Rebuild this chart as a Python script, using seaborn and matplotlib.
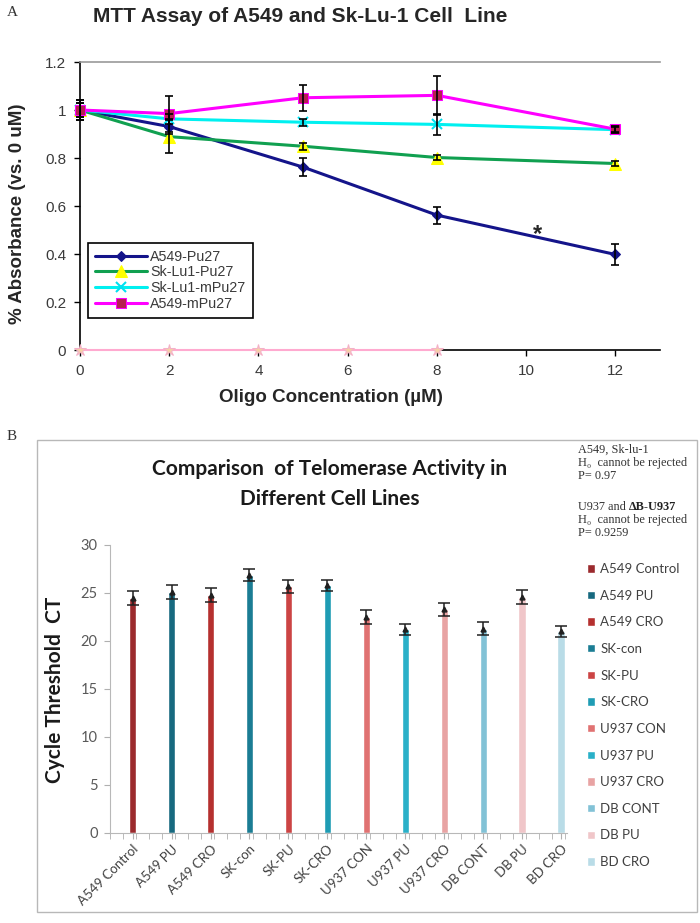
import numpy as np
import pandas as pd
import matplotlib
matplotlib.use("Agg")
import matplotlib.pyplot as plt
from matplotlib.patches import Patch, Rectangle
import seaborn as sns

# ---------------- DATA ----------------
# Panel A: MTT assay
conc = [0, 2, 5, 8, 12]
a549_pu27 = [1.0, 0.931, 0.762, 0.562, 0.398]
a549_pu27_err = [0.04, 0.03, 0.038, 0.035, 0.043]
sklu1_pu27 = [1.0, 0.889, 0.849, 0.802, 0.777]
sklu1_pu27_err = [0.03, 0.07, 0.015, 0.012, 0.012]
sklu1_mpu27 = [1.0, 0.963, 0.949, 0.940, 0.918]
sklu1_mpu27_err = [0.03, 0.02, 0.015, 0.045, 0.012]
a549_mpu27 = [1.0, 0.985, 1.051, 1.061, 0.920]
a549_mpu27_err = [0.04, 0.075, 0.055, 0.08, 0.012]
zero_conc = [0, 2, 4, 6, 8]
zero_vals = [0, 0, 0, 0, 0]

# Panel B: telomerase activity
cell_lines = ["A549 Control", "A549 PU", "A549 CRO", "SK-con", "SK-PU", "SK-CRO",
              "U937 CON", "U937 PU", "U937 CRO", "DB CONT", "DB PU", "BD CRO"]
ct_values = [24.5, 25.1, 24.8, 26.9, 25.7, 25.8, 22.5, 21.2, 23.3, 21.3, 24.6, 21.0]
ct_errors = [0.7, 0.7, 0.7, 0.6, 0.7, 0.6, 0.7, 0.6, 0.7, 0.7, 0.7, 0.6]
bar_colors = ["#9b2a2d", "#17697f", "#b5302f", "#1b7d94", "#cc4444", "#1f9cb4",
              "#e07272", "#2ab0c8", "#e8a3a3", "#82c2d6", "#f0c6c9", "#b9dce7"]

sns.set_style("white")
plt.rcParams["font.family"] = ["Liberation Sans", "DejaVu Sans"]

fig = plt.figure(figsize=(7, 9.23), dpi=100)
W, H = 700, 923

# ---------------- PANEL A ----------------
ax = fig.add_axes([80 / W, 1 - 350 / H, 580 / W, 288 / H])

series = [
    ("A549-Pu27", a549_pu27, a549_pu27_err,
     dict(color="#14148a", marker="D", markersize=5, markerfacecolor="#14148a",
          markeredgecolor="#14148a")),
    ("Sk-Lu1-Pu27", sklu1_pu27, sklu1_pu27_err,
     dict(color="#10a050", marker="^", markersize=8, markerfacecolor="#ffff00",
          markeredgecolor="#ffff00")),
    ("Sk-Lu1-mPu27", sklu1_mpu27, sklu1_mpu27_err,
     dict(color="#00f0f0", marker="x", markersize=7, markeredgewidth=1.5,
          markeredgecolor="#00e0f0")),
    ("A549-mPu27", a549_mpu27, a549_mpu27_err,
     dict(color="#ff00ff", marker="s", markersize=7, markerfacecolor="#b52050",
          markeredgecolor="#ff00ff")),
]

handles = []
for name, vals, err, style in series:
    sns.lineplot(x=conc, y=vals, ax=ax, linewidth=2.2, label=name, zorder=4,
                 clip_on=False, **style)
    handles.append(ax.lines[-1])
    ax.errorbar(conc, vals, yerr=err, fmt="none", ecolor="black",
                elinewidth=1.2, capsize=3, capthick=1.2, zorder=5, clip_on=False)

sns.lineplot(x=zero_conc, y=zero_vals, ax=ax, color="#ffaad0", linewidth=1.5,
             marker="*", markersize=9, markerfacecolor="#f4d0a8",
             markeredgecolor="#f5b0c8", zorder=6, clip_on=False, legend=False)

ax.text(10.25, 0.48, "*", fontsize=17, fontweight="bold", ha="center", va="center")

ax.set_xlim(0, 13)
ax.set_ylim(0, 1.2)
ax.set_xticks([0, 2, 4, 6, 8, 10, 12])
ax.set_yticks([0, 0.2, 0.4, 0.6, 0.8, 1.0, 1.2])
ax.set_yticklabels(["0", "0.2", "0.4", "0.6", "0.8", "1", "1.2"])
ax.tick_params(axis="both", direction="out", length=4, width=1, colors="black",
               labelcolor="#3a3a3a", labelsize=11, pad=6, left=True, bottom=True)
ax.spines["right"].set_visible(False)
ax.spines["top"].set_color("#999999")
ax.spines["top"].set_linewidth(1.2)
for s in ["left", "bottom"]:
    ax.spines[s].set_color("black")
    ax.spines[s].set_linewidth(1.2)

leg = ax.legend(handles, [s[0] for s in series], loc="lower left",
                bbox_to_anchor=(0.014, 0.111), borderaxespad=0, fontsize=10.3,
                frameon=True, fancybox=False, edgecolor="black", framealpha=1,
                handlelength=3.6, labelspacing=0.12, handletextpad=0.25,
                borderpad=0.5)
leg.get_frame().set_linewidth(1.2)
for t in leg.get_texts():
    t.set_color("#3a3a3a")

fig.text(300 / W, 1 - 17 / H, "MTT Assay of A549 and Sk-Lu-1 Cell  Line",
         fontsize=15, fontweight="bold", ha="center", va="center")
fig.text(331 / W, 1 - 397 / H, "Oligo Concentration (\u00b5M)", fontsize=13.5,
         fontweight="bold", ha="center", va="center")
fig.text(18 / W, 1 - 214 / H, "% Absorbance (vs. 0 uM)", fontsize=13.5,
         fontweight="bold", rotation=90, ha="center", va="center")
fig.text(12 / W, 1 - 12 / H, "A", fontsize=11, family="Liberation Serif",
         ha="center", va="center", color="#333333")

# ---------------- PANEL B ----------------
fig.patches.append(Rectangle((37 / W, 1 - 912 / H), 660 / W, 472 / H,
                             transform=fig.transFigure, fill=False,
                             edgecolor="#b8b8b8", linewidth=1))
fig.text(12 / W, 1 - 437 / H, "B", fontsize=11, family="Liberation Serif",
         ha="center", va="center", color="#333333")

axb = fig.add_axes([110 / W, 1 - 833 / H, 457 / W, 288 / H])
df = pd.DataFrame({"line": cell_lines, "ct": ct_values})
sns.barplot(data=df, x="line", y="ct", hue="line", order=cell_lines,
            hue_order=cell_lines, palette=bar_colors, width=0.19, saturation=1,
            legend=False, ax=axb)
axb.errorbar(range(len(cell_lines)), ct_values, yerr=ct_errors, fmt="^",
             markersize=3.5, color="#202020", ecolor="#202020", elinewidth=1.1,
             capsize=4, capthick=1.1, zorder=5)

axb.set_xlim(-0.58, 11.15)
axb.set_ylim(0, 30)
axb.set_yticks([0, 5, 10, 15, 20, 25, 30])
axb.set_xlabel("")
axb.set_ylabel("")
axb.set_xticks(range(len(cell_lines)))
axb.set_xticklabels(cell_lines, rotation=45, ha="right", rotation_mode="anchor",
                    fontsize=9.5, color="#404040", family=["Lato", "DejaVu Sans"])
axb.set_xticks(np.arange(-0.58, 11.2, 1 / 3), minor=True)
axb.tick_params(axis="x", which="both", direction="out", length=4, color="#b0b0b0",
                bottom=True, pad=3)
axb.tick_params(axis="y", direction="out", length=4, color="#b0b0b0", left=True,
                labelsize=10.5, labelcolor="#595959", pad=5)
for lab in axb.get_yticklabels():
    lab.set_family(["Lato", "DejaVu Sans"])
axb.spines["right"].set_visible(False)
axb.spines["top"].set_visible(False)
for s in ["left", "bottom"]:
    axb.spines[s].set_color("#b8b8b8")

fig.text(330 / W, 1 - 469 / H, "Comparison  of Telomerase Activity in",
         fontsize=15, fontweight="bold", family=["Lato", "DejaVu Sans"],
         ha="center", va="center", color="#1a1a1a")
fig.text(330 / W, 1 - 499 / H, "Different Cell Lines", fontsize=15,
         fontweight="bold", family=["Lato", "DejaVu Sans"], ha="center",
         va="center", color="#1a1a1a")
fig.text(55 / W, 1 - 690 / H, "Cycle Threshold  CT", fontsize=15,
         fontweight="bold", family=["Lato", "DejaVu Sans"], rotation=90,
         ha="center", va="center", color="#1a1a1a")

serif = ["Liberation Serif", "DejaVu Serif"]
notes = [(450, "A549, Sk-lu-1"), (463, "H\u2080  cannot be rejected"),
         (476, "P= 0.97"), (520, "H\u2080  cannot be rejected"), (533, "P= 0.9259")]
for y, txt in notes:
    fig.text(578 / W, 1 - y / H, txt, fontsize=8.8, family=serif, ha="left",
             va="center", color="#333333")
t_u937 = fig.text(578 / W, 1 - 507 / H, "U937 and ", fontsize=8.8, family=serif,
                  ha="left", va="center", color="#333333")
axb.annotate("\u0394B-U937", xy=(1, 0.5), xycoords=t_u937, fontsize=8.8,
             family=serif, fontweight="bold", ha="left", va="center",
             color="#222222", annotation_clip=False)

legb = fig.legend([Patch(facecolor=c) for c in bar_colors], cell_lines,
                  loc="upper left", bbox_to_anchor=(587 / W, 1 - 563 / H),
                  frameon=False, handlelength=0.6, handleheight=0.6,
                  handletextpad=0.4, labelspacing=1.11, borderaxespad=0,
                  borderpad=0, prop={"family": ["Lato", "DejaVu Sans"], "size": 9.5})
for t in legb.get_texts():
    t.set_color("#404040")

fig.savefig("out.png", dpi=100)
